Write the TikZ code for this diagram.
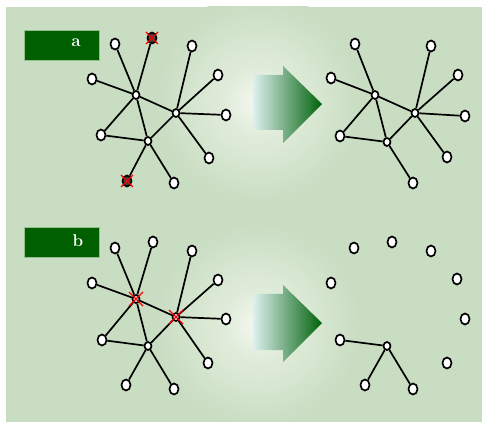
\documentclass[tikz,border=0pt]{standalone}
\usepackage{tikz}
\usetikzlibrary{calc,shapes.geometric}

\definecolor{panelgreen}{RGB}{200,221,194}
\definecolor{glowwhite}{RGB}{244,248,240}
\definecolor{glowmid}{RGB}{224,236,218}
\definecolor{tabgreen}{RGB}{0,96,0}
\definecolor{tabedge}{RGB}{150,190,140}
\definecolor{arrowdark}{RGB}{0,98,10}
\definecolor{arrowmid}{RGB}{40,135,95}
\definecolor{arrowlight}{RGB}{222,240,240}
\pgfdeclareradialshading{glow}{\pgfpointorigin}{color(0bp)=(glowwhite); color(8bp)=(glowmid); color(24bp)=(panelgreen); color(50bp)=(panelgreen)}

\begin{document}
\begin{tikzpicture}[x=1pt,y=-1pt]
            \tikzstyle{vertex}=[ellipse,draw,line width=1.7pt,fill=white,inner sep=0,minimum width=9pt,minimum height=11pt];
            \tikzstyle{hub}=[ellipse,draw,line width=1.7pt,fill=white,inner sep=0,minimum width=7pt,minimum height=8pt];
            \tikzstyle{gone}=[vertex,fill=black!75];
            \tikzstyle{link}=[line width=1.7pt];
            \tikzstyle{cross}=[red,line width=1.2pt];
            \tikzstyle{tab}=[draw=tabedge,fill=tabgreen,minimum width=75pt,minimum height=30pt,inner sep=0];
            \tikzstyle{tabtext}=[text=white,font=\fontsize{17}{17}\selectfont\bfseries];
            \useasboundingbox (0,0) rectangle (485,422);
            \fill[panelgreen] (6,7) rectangle (482,422);
            \begin{scope}
              \clip (6,7) rectangle (482,422);
              \shade[shading=glow] (258,102) circle (108pt);
              \shade[shading=glow] (258,325) circle (108pt);
            \end{scope}
            % labels
            \node[tab] (taba) at (61.5,45) {};
            \node[tab] (tabb) at (61.5,242.5) {};
            \node[tabtext] (texta) at (76,43) {a};
            \node[tabtext] (textb) at (78,241) {b};
            % arrows
            \shade[left color=arrowlight,middle color=arrowmid,right color=arrowdark] (253,75)--(283,75)--(283,66)--(322,104)--(283,143)--(283,130)--(253,130)--cycle;
            \shade[left color=arrowlight,middle color=arrowmid,right color=arrowdark] (253,294)--(283,294)--(283,285)--(322,323)--(283,362)--(283,350)--(253,350)--cycle;
            % a, before
            \node[hub] (a1) at (136,95) {};
            \node[hub] (a2) at (176,113) {};
            \node[hub] (a3) at (148,141) {};
            \node[vertex] (aL1) at (115,44) {};
            \node[vertex] (aL2) at (192,46) {};
            \node[vertex] (aL3) at (92,79) {};
            \node[vertex] (aL4) at (218,75) {};
            \node[vertex] (aL5) at (226,115) {};
            \node[vertex] (aL6) at (101,135) {};
            \node[vertex] (aL7) at (209,158) {};
            \node[vertex] (aL8) at (174,183) {};
            \node[gone] (aX1) at (152,38) {};
            \node[gone] (aX2) at (127,181) {};
            \foreach \v in {aL1,aX1,aL3,a2,aL6,a3} \draw[link] (a1)--(\v);
            \foreach \v in {aL2,aL4,aL5,aL7,a3} \draw[link] (a2)--(\v);
            \foreach \v in {aL6,aX2,aL8} \draw[link] (a3)--(\v);
            \foreach \v in {aX1,aX2} {
              \draw[cross] ($(\v)+(-6,-6)$)--($(\v)+(6,6)$);
              \draw[cross] ($(\v)+(-6,6)$)--($(\v)+(6,-6)$);
            }
            % a, after
            \node[hub] (c1) at (375,95) {};
            \node[hub] (c2) at (415,113) {};
            \node[hub] (c3) at (387,142) {};
            \node[vertex] (cL1) at (355,44) {};
            \node[vertex] (cL2) at (431,46) {};
            \node[vertex] (cL3) at (331,78) {};
            \node[vertex] (cL4) at (458,75) {};
            \node[vertex] (cL5) at (465,116) {};
            \node[vertex] (cL6) at (340,136) {};
            \node[vertex] (cL7) at (447,157) {};
            \node[vertex] (cL8) at (413,183) {};
            \foreach \v in {cL1,cL3,c2,cL6,c3} \draw[link] (c1)--(\v);
            \foreach \v in {cL2,cL4,cL5,cL7,c3} \draw[link] (c2)--(\v);
            \foreach \v in {cL6,cL8} \draw[link] (c3)--(\v);
            % b, before
            \node[hub] (b1) at (136,299) {};
            \node[hub] (b2) at (176,317) {};
            \node[hub] (b3) at (148,346) {};
            \node[vertex] (bL1) at (115,248) {};
            \node[vertex] (bL9) at (153,242) {};
            \node[vertex] (bL2) at (192,251) {};
            \node[vertex] (bL3) at (92,283) {};
            \node[vertex] (bL4) at (218,280) {};
            \node[vertex] (bL5) at (226,319) {};
            \node[vertex] (bL6) at (102,340) {};
            \node[vertex] (bL7) at (208,363) {};
            \node[vertex] (bL10) at (126,385) {};
            \node[vertex] (bL8) at (174,389) {};
            \foreach \v in {bL1,bL9,bL3,b2,bL6,b3} \draw[link] (b1)--(\v);
            \foreach \v in {bL2,bL4,bL5,bL7,b3} \draw[link] (b2)--(\v);
            \foreach \v in {bL6,bL10,bL8} \draw[link] (b3)--(\v);
            \foreach \v in {b1,b2} {
              \draw[cross] ($(\v)+(-7,-7)$)--($(\v)+(7,7)$);
              \draw[cross] ($(\v)+(-7,7)$)--($(\v)+(7,-7)$);
            }
            % b, after
            \node[hub] (d3) at (387,346) {};
            \node[vertex] (dL1) at (354,248) {};
            \node[vertex] (dL9) at (392,242) {};
            \node[vertex] (dL2) at (431,251) {};
            \node[vertex] (dL3) at (331,283) {};
            \node[vertex] (dL4) at (457,279) {};
            \node[vertex] (dL5) at (465,319) {};
            \node[vertex] (dL6) at (340,340) {};
            \node[vertex] (dL7) at (447,363) {};
            \node[vertex] (dL10) at (365,385) {};
            \node[vertex] (dL8) at (413,389) {};
            \foreach \v in {dL6,dL10,dL8} \draw[link] (d3)--(\v);
\end{tikzpicture}
\end{document}
